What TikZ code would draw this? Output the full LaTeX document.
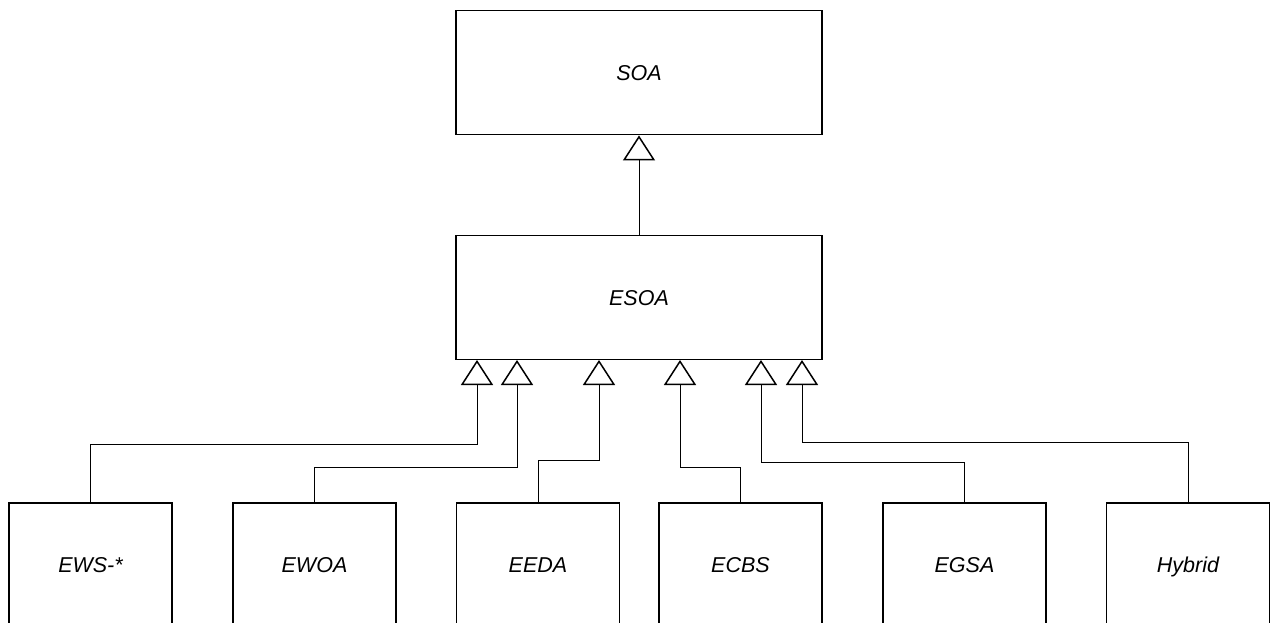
\documentclass[tikz,border=0pt]{standalone}
\usepackage{fontspec}
\setmainfont{Liberation Sans}
\usetikzlibrary{arrows.meta}
\begin{document}
\begin{tikzpicture}[x=1pt,y=-1pt,
  cls/.style={draw, line width=1.9pt, minimum width=366pt, minimum height=124pt,
    inner sep=0pt, text height=15.5pt, text depth=0pt,
    font=\fontsize{21.5}{26}\selectfont\itshape},
  sub/.style={cls, minimum width=163pt},
  inh/.style={line width=0.9pt,
    -{Triangle[open, width=32pt, length=25pt, line width=1.5pt]}}]
\useasboundingbox (0,0) rectangle (1275,623);
\clip (0,0) rectangle (1275,623);

% abstract architectures
\node[cls] (soa)  at (639,72.5)  {SOA};
\node[cls] (esoa) at (639,297.5) {ESOA};

% concrete enterprise styles
\node[sub] (ews)    at (90.5,565)  {EWS-*};
\node[sub] (ewoa)   at (314.5,565) {EWOA};
\node[sub] (eeda)   at (538,565)   {EEDA};
\node[sub] (ecbs)   at (740.5,565) {ECBS};
\node[sub] (egsa)   at (964.5,565) {EGSA};
\node[sub] (hybrid) at (1188,565)  {Hybrid};

% attachment points on the lower edge of ESOA
\coordinate (a1) at (477,360);
\coordinate (a2) at (517,360);
\coordinate (a3) at (599,360);
\coordinate (a4) at (680,360);
\coordinate (a5) at (761,360);
\coordinate (a6) at (802,360);

% generalisation links
\draw[inh] (esoa.north) -- (soa.south);
\draw[inh] (ews.north)    |- (a1 |- 0,444) -- (a1);
\draw[inh] (ewoa.north)   |- (a2 |- 0,467) -- (a2);
\draw[inh] (eeda.north)   |- (a3 |- 0,460) -- (a3);
\draw[inh] (ecbs.north)   |- (a4 |- 0,467) -- (a4);
\draw[inh] (egsa.north)   |- (a5 |- 0,462) -- (a5);
\draw[inh] (hybrid.north) |- (a6 |- 0,442) -- (a6);
\end{tikzpicture}
\end{document}
